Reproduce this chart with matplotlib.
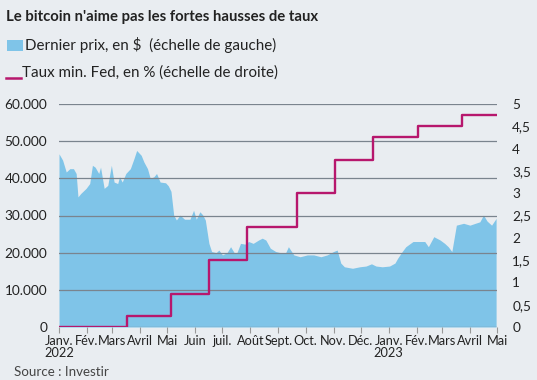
import matplotlib
matplotlib.use("Agg")
import matplotlib.pyplot as plt
import pandas as pd
from matplotlib.patches import Rectangle
from matplotlib.lines import Line2D

# ---- data ----
btc_dates = ["2022-01-01", "2022-01-05", "2022-01-09", "2022-01-13", "2022-01-17", "2022-01-20",
             "2022-01-22", "2022-01-25", "2022-01-31", "2022-02-04", "2022-02-07", "2022-02-10",
             "2022-02-14", "2022-02-16", "2022-02-20", "2022-02-24", "2022-02-28", "2022-03-03",
             "2022-03-07", "2022-03-09", "2022-03-12", "2022-03-16", "2022-03-21", "2022-03-25",
             "2022-03-28", "2022-04-02", "2022-04-05", "2022-04-09", "2022-04-12", "2022-04-16",
             "2022-04-19", "2022-04-23", "2022-04-29", "2022-05-02", "2022-05-05", "2022-05-08",
             "2022-05-11", "2022-05-15", "2022-05-20", "2022-05-26", "2022-05-30", "2022-06-02",
             "2022-06-06", "2022-06-09", "2022-06-12", "2022-06-16", "2022-06-19", "2022-06-24",
             "2022-06-27", "2022-07-01", "2022-07-06", "2022-07-10", "2022-07-14", "2022-07-17",
             "2022-07-21", "2022-07-26", "2022-07-30", "2022-08-04", "2022-08-10", "2022-08-14",
             "2022-08-18", "2022-08-23", "2022-08-29", "2022-09-03", "2022-09-09", "2022-09-12",
             "2022-09-18", "2022-09-25", "2022-10-03", "2022-10-10", "2022-10-18", "2022-10-25",
             "2022-11-01", "2022-11-05", "2022-11-09", "2022-11-13", "2022-11-22", "2022-11-30",
             "2022-12-07", "2022-12-13", "2022-12-18", "2022-12-25", "2023-01-02", "2023-01-08",
             "2023-01-11", "2023-01-16", "2023-01-20", "2023-01-28", "2023-02-05", "2023-02-10",
             "2023-02-14", "2023-02-20", "2023-02-27", "2023-03-04", "2023-03-08", "2023-03-12",
             "2023-03-17", "2023-03-25", "2023-04-01", "2023-04-07", "2023-04-12", "2023-04-16",
             "2023-04-20", "2023-04-25", "2023-04-30"]
btc_values = [46600, 44900, 41700, 42600, 42600, 41300,
              35000, 35900, 37300, 38600, 43500, 43000,
              41300, 43000, 37300, 38100, 43500, 39000,
              38600, 40400, 39000, 41300, 42600, 45300,
              47500, 46200, 44400, 42600, 40000, 40400,
              41300, 39000, 38800, 38000, 36500, 30100,
              28800, 30100, 29000, 29000, 31400, 29000,
              31000, 30200, 28800, 22500, 20300, 20000,
              20700, 19400, 20000, 21600, 20000, 20000,
              22500, 22300, 23000, 22500, 23400, 23900,
              23400, 21200, 20300, 20000, 20000, 21600,
              19400, 18900, 19400, 19400, 18900, 19400,
              20300, 20700, 17200, 16200, 15800, 16200,
              16400, 17000, 16400, 16200, 16400, 17200,
              18500, 20300, 21600, 23000, 23000, 23000,
              21600, 24300, 23400, 22500, 21600, 20300,
              27400, 27900, 27400, 27900, 28300, 30100,
              28500, 27400, 29200]

fed_dates = ["2022-01-01", "2022-03-17", "2022-05-05", "2022-06-16", "2022-07-28",
             "2022-09-22", "2022-11-03", "2022-12-15", "2023-02-02", "2023-03-23", "2023-04-30"]
fed_values = [0, 0.25, 0.75, 1.5, 2.25, 3.0, 3.75, 4.25, 4.5, 4.75, 4.75]

left_ticks = [0, 10000, 20000, 30000, 40000, 50000, 60000]
left_labels = ["0", "10.000", "20.000", "30.000", "40.000", "50.000", "60.000"]
right_ticks = [0, 0.5, 1, 1.5, 2, 2.5, 3, 3.5, 4, 4.5, 5]
right_labels = ["0", "0,5", "1", "1,5", "2", "2,5", "3", "3,5", "4", "4,5", "5"]
month_ticks = pd.date_range("2022-01-01", "2023-05-01", freq="MS")
month_labels = ["Janv.\n2022", "Fév.", "Mars", "Avril", "Mai", "Juin", "juil.", "Août", "Sept.",
                "Oct.", "Nov.", "Déc.", "Janv.\n2023", "Fév.", "Mars", "Avril", "Mai"]

# ---- style ----
FONT = ["Lato", "DejaVu Sans"]
plt.rcParams["font.family"] = FONT
BG = "#e9edf1"
BLUE = "#7fc4e8"
PINK = "#b7176d"
GRID = "#7a848e"
TXT = "#222222"
FS = 9.2

fig = plt.figure(figsize=(5.37, 3.8), dpi=100, facecolor=BG)
ax = fig.add_axes([59 / 537, 1 - 327 / 380, (497 - 59) / 537, (327 - 104) / 380])
ax.set_facecolor(BG)

bd = pd.to_datetime(btc_dates)
ax.fill_between(bd, btc_values, 0, color=BLUE, linewidth=0, zorder=1)

ax.set_ylim(0, 60000)
ax.set_xlim(pd.Timestamp("2022-01-01"), pd.Timestamp("2023-05-01"))
ax.set_yticks(left_ticks)
ax.set_yticklabels(left_labels)
for v in left_ticks:
    ax.axhline(v, color=GRID, linewidth=0.9, zorder=2)

ax.set_xticks(month_ticks)
ax.set_xticklabels(month_labels)
ax.tick_params(axis="x", length=4, color="#999999", width=0.8, labelsize=FS,
               labelcolor=TXT, pad=2)
ax.tick_params(axis="y", length=0, labelsize=FS + 0.6, labelcolor=TXT, pad=8.5)
for lab in ax.get_xticklabels():
    lab.set_linespacing(1.0)
for s in ax.spines.values():
    s.set_visible(False)

ax2 = ax.twinx()
ax2.set_ylim(0, 5)
ax2.set_yticks(right_ticks)
ax2.set_yticklabels(right_labels)
ax2.tick_params(axis="y", length=0, labelsize=FS + 0.6, labelcolor=TXT, pad=11)
for s in ax2.spines.values():
    s.set_visible(False)
fd = pd.to_datetime(fed_dates)
ax2.step(fd, fed_values, where="post", color=PINK, linewidth=1.7, zorder=5)
ax2.set_xlim(pd.Timestamp("2022-01-01"), pd.Timestamp("2023-05-01"))

# ---- title, legend, source ----
fig.text(6 / 537, 1 - 17 / 380, "Le bitcoin n'aime pas les fortes hausses de taux",
         fontsize=10.7, fontweight="bold", color=TXT, va="center", ha="left")
fig.patches.append(Rectangle((7 / 537, 1 - 51 / 380), 16 / 537, 11 / 380,
                             transform=fig.transFigure, facecolor=BLUE, edgecolor="none"))
fig.text(25 / 537, 1 - 45 / 380, "Dernier prix, en $  (échelle de gauche)",
         fontsize=10.9, color=TXT, va="center", ha="left")
fig.lines.append(Line2D([6 / 537, 21 / 537], [1 - 78 / 380, 1 - 78 / 380],
                        transform=fig.transFigure, color=PINK, linewidth=1.8))
fig.text(22 / 537, 1 - 73 / 380, "Taux min. Fed, en % (échelle de droite)",
         fontsize=10.9, color=TXT, va="center", ha="left")
fig.text(14 / 537, 1 - 372 / 380, "Source : Investir", fontsize=9.6, color="#444444",
         va="center", ha="left")

fig.savefig("out.png", dpi=100, facecolor=BG)
